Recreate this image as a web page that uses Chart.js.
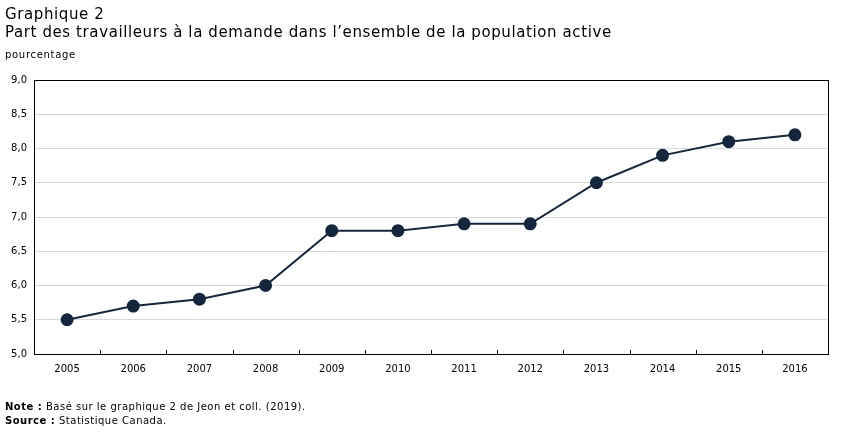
<!DOCTYPE html>
<html lang="fr">
<head>
<meta charset="utf-8">
<script src="https://cdn.jsdelivr.net/npm/chart.js@4"></script>
<style>
  body { margin: 0; background: #fff; font-family: "DejaVu Sans", Verdana, sans-serif; color: #000; }
  #wrap { position: relative; width: 851px; height: 436px; }
  canvas { position: absolute; left: 0; top: 0; }
  .txt { position: absolute; left: 5px; white-space: nowrap; }
  #t1 { top: 5px; font-size: 15px; letter-spacing: 0.6px; }
  #t2 { top: 23px; font-size: 15px; letter-spacing: 0.6px; }
  #unit { top: 49px; font-size: 10px; letter-spacing: 0.7px; }
  #note { top: 401px; font-size: 10px; letter-spacing: 0.5px; }
  #src { top: 415px; font-size: 10px; letter-spacing: 0.5px; }
</style>
</head>
<body>
<div id="wrap">
  <canvas id="c" width="851" height="436"></canvas>
  <div class="txt" id="t1">Graphique 2</div>
  <div class="txt" id="t2">Part des travailleurs à la demande dans l’ensemble de la population active</div>
  <div class="txt" id="unit">pourcentage</div>
  <div class="txt" id="note"><b>Note :</b> Basé sur le graphique 2 de Jeon et coll. (2019).</div>
  <div class="txt" id="src"><b>Source :</b> Statistique Canada.</div>
</div>
<script>
const annees = ['2005', '2006', '2007', '2008', '2009', '2010', '2011', '2012', '2013', '2014', '2015', '2016'];
const part = [5.5, 5.7, 5.8, 6.0, 6.8, 6.8, 6.9, 6.9, 7.5, 7.9, 8.1, 8.2];
const yMin = 5.0;
const yMax = 9.0;
const yPas = 0.5;

const navy = '#15263f';

// cadre noir et petites marques entre les années
const cadre = {
  id: 'cadre',
  afterDraw(chart) {
    const { ctx, chartArea: a, scales } = chart;
    ctx.save();
    ctx.strokeStyle = '#000';
    ctx.lineWidth = 1;
    ctx.strokeRect(Math.round(a.left) + 0.5, Math.round(a.top) + 0.5,
      Math.round(a.right - a.left), Math.round(a.bottom - a.top));
    ctx.beginPath();
    for (let i = 1; i < annees.length; i++) {
      const x = Math.round(scales.x.getPixelForValue(i - 0.5)) + 0.5;
      ctx.moveTo(x, a.bottom);
      ctx.lineTo(x, a.bottom - 4);
    }
    ctx.stroke();
    ctx.restore();
  }
};

new Chart(document.getElementById('c'), {
  type: 'line',
  data: {
    labels: annees,
    datasets: [{
      data: part,
      borderColor: navy,
      backgroundColor: navy,
      borderWidth: 2,
      pointRadius: 5.5,
      pointHoverRadius: 5.5,
      tension: 0
    }]
  },
  options: {
    responsive: false,
    animation: false,
    layout: { padding: { top: 80, right: 23, left: 0, bottom: 0 } },
    plugins: { legend: { display: false }, tooltip: { enabled: false } },
    scales: {
      x: {
        offset: true,
        grid: { display: false, drawTicks: false },
        border: { display: false },
        ticks: {
          color: '#000',
          font: { family: 'DejaVu Sans', size: 10 },
          padding: 9,
          maxRotation: 0
        },
        afterFit(s) { s.height = 82; }
      },
      y: {
        min: yMin,
        max: yMax,
        grid: { color: '#d9d9d9', drawTicks: false },
        border: { display: false },
        ticks: {
          stepSize: yPas,
          color: '#000',
          font: { family: 'DejaVu Sans', size: 10 },
          padding: 7,
          callback: v => v.toFixed(1).replace('.', ',')
        },
        afterFit(s) { s.width = 34; }
      }
    }
  },
  plugins: [cadre]
});
</script>
</body>
</html>
